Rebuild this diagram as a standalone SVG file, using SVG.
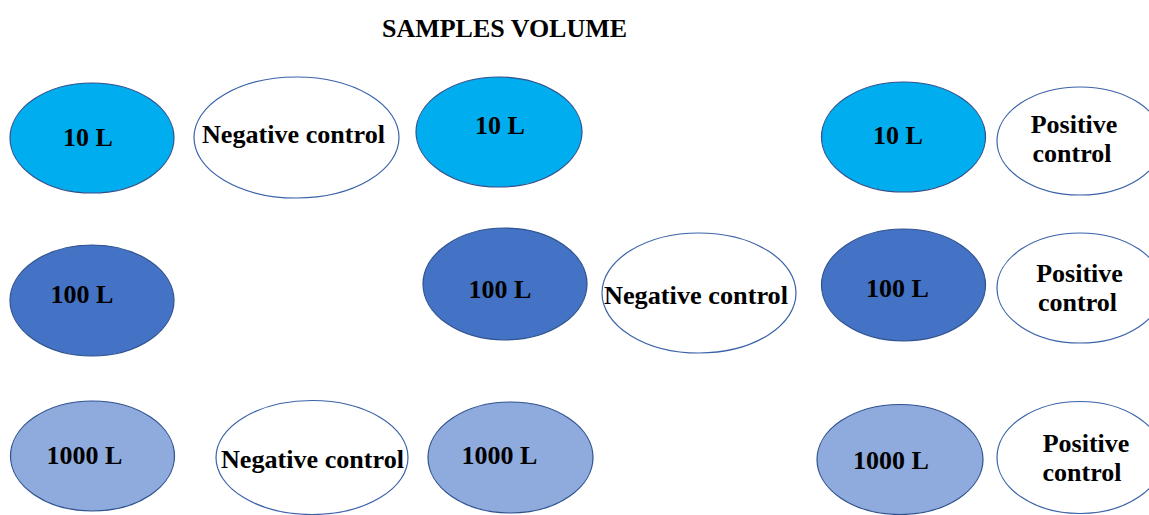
<svg xmlns="http://www.w3.org/2000/svg" width="1149" height="515" viewBox="0 0 1149 515">
  <style>
    .ell { stroke: #2f528f; stroke-width: 1.2; }
    .v10 { fill: #00adef; }
    .v100 { fill: #4472c4; }
    .v1000 { fill: #8faadc; }
    .ctl { fill: #ffffff; stroke: #3a62a8; }
    text { font-family: "Liberation Serif", "Times New Roman", serif; font-weight: bold; fill: #000000; }
    .lbl { font-size: 26px; text-anchor: middle; }
    .title { font-size: 25px; text-anchor: middle; }
  </style>
  <rect x="0" y="0" width="1149" height="515" fill="#ffffff"/>

  <text class="title" x="504.5" y="37" textLength="245" lengthAdjust="spacingAndGlyphs">SAMPLES VOLUME</text>

  <!-- left column -->
  <g id="left-10">
    <ellipse class="ell v10" cx="92" cy="138" rx="82" ry="55"/>
    <text class="lbl" x="88" y="146">10 L</text>
  </g>
  <g id="left-neg">
    <ellipse class="ell ctl" cx="296.5" cy="137.5" rx="102.5" ry="60.5"/>
    <text class="lbl" x="293.5" y="143" textLength="183" lengthAdjust="spacingAndGlyphs">Negative control</text>
  </g>
  <g id="left-100">
    <ellipse class="ell v100" cx="92" cy="300.5" rx="82" ry="55.5"/>
    <text class="lbl" x="82" y="303">100 L</text>
  </g>
  <g id="left-1000">
    <ellipse class="ell v1000" cx="92.5" cy="456" rx="82" ry="55"/>
    <text class="lbl" x="84.5" y="464">1000 L</text>
  </g>
  <g id="bottom-neg">
    <ellipse class="ell ctl" cx="312" cy="457.5" rx="96" ry="57"/>
    <text class="lbl" x="312.5" y="468" textLength="183" lengthAdjust="spacingAndGlyphs">Negative control</text>
  </g>

  <!-- middle column -->
  <g id="mid-10">
    <ellipse class="ell v10" cx="499" cy="132" rx="83" ry="55"/>
    <text class="lbl" x="500" y="134">10 L</text>
  </g>
  <g id="mid-100">
    <ellipse class="ell v100" cx="505" cy="284" rx="82" ry="56"/>
    <text class="lbl" x="500" y="298">100 L</text>
  </g>
  <g id="mid-neg">
    <ellipse class="ell ctl" cx="699" cy="293" rx="97" ry="60"/>
    <text class="lbl" x="696" y="304" textLength="184" lengthAdjust="spacingAndGlyphs">Negative control</text>
  </g>
  <g id="mid-1000">
    <ellipse class="ell v1000" cx="510.5" cy="457.5" rx="82.5" ry="55.5"/>
    <text class="lbl" x="499.5" y="464">1000 L</text>
  </g>

  <!-- right column -->
  <g id="right-10">
    <ellipse class="ell v10" cx="903.5" cy="137" rx="82" ry="55"/>
    <text class="lbl" x="898" y="144">10 L</text>
  </g>
  <g id="right-pos-1">
    <ellipse class="ell ctl" cx="1080" cy="141" rx="83" ry="54"/>
    <text class="lbl" x="1074" y="133">Positive</text>
    <text class="lbl" x="1072" y="162">control</text>
  </g>
  <g id="right-100">
    <ellipse class="ell v100" cx="903.5" cy="285" rx="82" ry="56"/>
    <text class="lbl" x="897.5" y="297">100 L</text>
  </g>
  <g id="right-pos-2">
    <ellipse class="ell ctl" cx="1080" cy="288" rx="83" ry="55"/>
    <text class="lbl" x="1079.5" y="282">Positive</text>
    <text class="lbl" x="1077.5" y="311">control</text>
  </g>
  <g id="right-1000">
    <ellipse class="ell v1000" cx="900" cy="459.5" rx="83" ry="55"/>
    <text class="lbl" x="891" y="469">1000 L</text>
  </g>
  <g id="right-pos-3">
    <ellipse class="ell ctl" cx="1080" cy="457.5" rx="83" ry="56"/>
    <text class="lbl" x="1086" y="452">Positive</text>
    <text class="lbl" x="1082" y="481">control</text>
  </g>

  <g id="connectors"/>
</svg>
